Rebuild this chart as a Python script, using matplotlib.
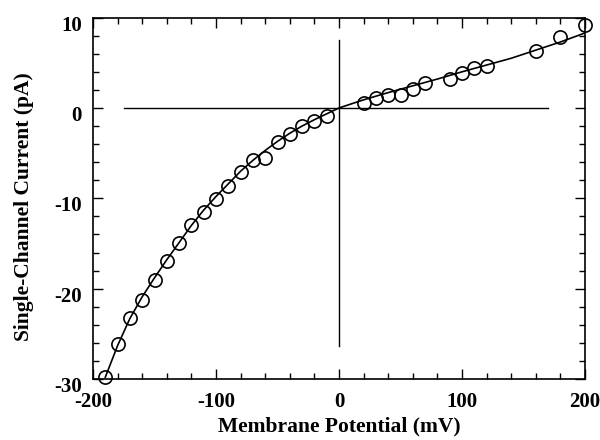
import matplotlib
matplotlib.use("Agg")
import matplotlib.pyplot as plt
from matplotlib.ticker import MultipleLocator
from matplotlib.transforms import ScaledTranslation

# Measured single-channel currents
volt_data = [-190, -180, -170, -160, -150, -140, -130, -120, -110, -100,
             -90, -80, -70, -60, -50, -40, -30, -20, -10,
             20, 30, 40, 50, 60, 70, 90, 100, 110, 120, 160, 180, 200]
curr_data = [-29.8, -26.1, -23.2, -21.2, -19.0, -16.9, -15.0, -12.9, -11.5, -10.1,
             -8.6, -7.1, -5.8, -5.5, -3.8, -2.85, -1.95, -1.45, -0.9,
             0.55, 1.1, 1.45, 1.45, 2.1, 2.75, 3.25, 3.9, 4.45, 4.6, 6.25, 7.9, 9.2]

# Fitted curve
volt_fit = [-190, -180, -170, -160, -150, -140, -130, -120, -110, -100,
            -90, -80, -70, -60, -50, -40, -30, -20, -10, 0,
            20, 40, 60, 80, 100, 120, 140, 160, 180, 200]
curr_fit = [-29.8, -26.3, -23.3, -20.9, -18.8, -16.8, -14.9, -13.0, -11.3, -9.8,
            -8.4, -7.0, -5.8, -4.7, -3.7, -2.8, -2.0, -1.3, -0.65, 0.0,
            0.9, 1.7, 2.45, 3.2, 4.0, 4.75, 5.5, 6.4, 7.3, 8.3]

# Reference axes lines
hline_x = [-175, 170]
vline_y = [-26.3, 7.5]

xticks = [-200, -100, 0, 100, 200]
yticks = [-30, -20, -10, 0, 10]

plt.rcParams['font.family'] = ['Liberation Serif', 'DejaVu Serif']
fig = plt.figure(figsize=(6, 4.4), dpi=100)
ax = fig.add_axes([0.155, 0.1386, 0.82, 0.8214])

ax.plot(hline_x, [0, 0], color='black', lw=1.0)
ax.plot([0, 0], vline_y, color='black', lw=1.0)
ax.plot(volt_fit, curr_fit, color='black', lw=1.2, zorder=3)
ax.plot(volt_data, curr_data, linestyle='none', marker='o', markersize=9.5,
        markerfacecolor='none', markeredgecolor='black', markeredgewidth=1.2,
        zorder=4, clip_on=False)

ax.set_xlim(-200, 200)
ax.set_ylim(-30, 10)
ax.set_xticks(xticks)
ax.set_yticks(yticks)
ax.set_xticklabels([str(v) for v in xticks], fontweight='bold', fontsize=15)
ax.set_yticklabels([str(v) for v in yticks], fontweight='bold', fontsize=15)
ax.xaxis.set_minor_locator(MultipleLocator(20))
ax.yaxis.set_minor_locator(MultipleLocator(2))
ax.tick_params(which='both', direction='in', top=True, right=True, width=1.0)
ax.tick_params(which='major', length=7)
ax.tick_params(axis='x', which='major', pad=9)
ax.tick_params(axis='y', which='major', pad=8)
ax.tick_params(which='minor', length=4)
for s in ax.spines.values():
    s.set_linewidth(1.2)

shift = ScaledTranslation(0, -4 / 72, fig.dpi_scale_trans)
for lab in ax.get_yticklabels():
    lab.set_transform(lab.get_transform() + shift)

ax.set_xlabel('Membrane Potential (mV)', fontweight='bold', fontsize=15.5)
ax.set_ylabel('Single-Channel Current (pA)', fontweight='bold', fontsize=15.5)
ax.xaxis.set_label_coords(0.5, -0.105)
ax.yaxis.set_label_coords(-0.12, 0.476)

fig.savefig('out.png', dpi=100)
